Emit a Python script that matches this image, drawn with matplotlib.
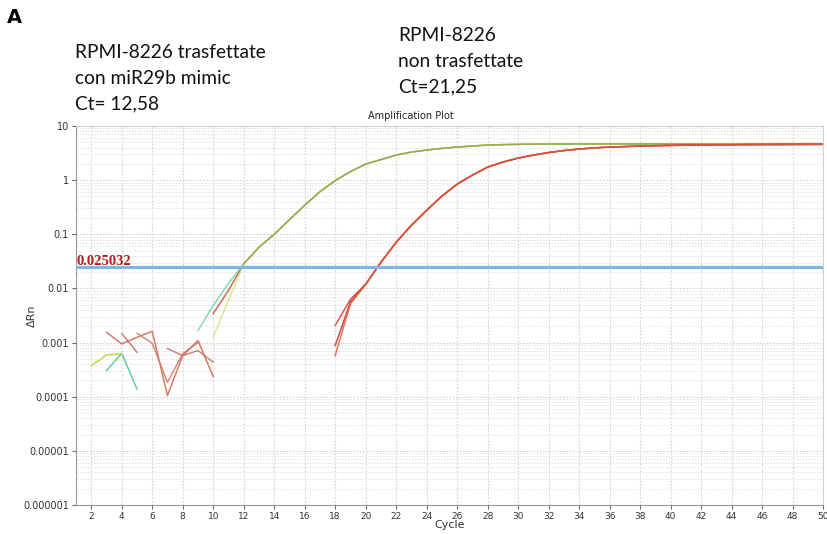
import numpy as np
import matplotlib
matplotlib.use("Agg")
import matplotlib.pyplot as plt
from matplotlib.ticker import LogLocator, NullFormatter

# ---------------- data ----------------
cycles_axis = list(range(2, 51, 2))
y_ticks = [1e-6, 1e-5, 1e-4, 1e-3, 1e-2, 1e-1, 1, 10]
y_tick_labels = ["0.000001", "0.00001", "0.0001", "0.001", "0.01", "0.1", "1", "10"]
threshold = 0.025032

# miR29b mimic transfected wells (Ct 12.58): noise part + exponential part
teal_noise_cyc = [3, 4, 5]
teal_noise_val = [0.000303, 0.000634, 0.000139]
yellow_noise_cyc = [2, 3, 4]
yellow_noise_val = [0.000375, 0.000591, 0.00062]

teal_early_cyc = [9, 10, 11]
teal_early_val = [0.00167, 0.00484, 0.0124]
yellow_early_cyc = [10, 11]
yellow_early_val = [0.00125, 0.0060]
salmon_early_cyc = [10, 11]
salmon_early_val = [0.00344, 0.00918]

green_main_cyc = list(range(12, 51))
green_main_val = [0.0285, 0.0574, 0.100, 0.186, 0.344, 0.612, 0.979, 1.437, 1.978,
                  2.396, 2.904, 3.30, 3.594, 3.864, 4.084, 4.262, 4.448, 4.524, 4.583,
                  4.62, 4.64, 4.64, 4.65, 4.65, 4.66, 4.66, 4.67, 4.67, 4.67, 4.68,
                  4.68, 4.68, 4.69, 4.69, 4.69, 4.70, 4.70, 4.70, 4.70]

# non-transfected wells (Ct 21.25)
red1_noise_cyc = [3, 4, 5, 6, 7, 8, 9, 10]
red1_noise_val = [0.00155, 0.000946, 0.00125, 0.00162, 0.000105, 0.000574, 0.00109, 0.000236]
red2_noise_cyc = [4, 5, None, 7, 8, 9, 10]
red2_noise_val = [0.00147, 0.00066, None, 0.000774, 0.000574, 0.000711, 0.000436]
red3_noise_cyc = [5, 6, 7, 8, 9]
red3_noise_val = [0.00149, 0.00097, 0.000184, 0.000625, 0.0010]

red_start_cyc = [18, 19]
red1_start_val = [0.00207, 0.0063]
red2_start_val = [0.00088, 0.0056]
red3_start_val = [0.000574, 0.0052]

red_main_cyc = list(range(20, 51))
red_main_val = [0.0119, 0.0303, 0.0711, 0.147, 0.278, 0.506, 0.843, 1.238, 1.741,
                2.154, 2.556, 2.904, 3.231, 3.518, 3.75, 3.95, 4.08, 4.17, 4.26,
                4.33, 4.38, 4.42, 4.45, 4.48, 4.50, 4.52, 4.54, 4.55, 4.56, 4.57, 4.58]

# ---------------- figure ----------------
fig = plt.figure(figsize=(8.27, 5.34), dpi=100)
ax = fig.add_axes([76 / 827, 1 - 505 / 534, 747 / 827, 379 / 534])
ax.set_yscale("log")
ax.set_xlim(1, 50)
ax.set_ylim(1e-6, 10)

# grid
ax.yaxis.set_minor_locator(LogLocator(base=10, subs=np.arange(2, 10), numticks=20))
ax.yaxis.set_minor_formatter(NullFormatter())
ax.grid(True, which="major", axis="both", color="#d4d4d4", linestyle=(0, (1.5, 1.5)), linewidth=0.8)
ax.grid(True, which="minor", axis="y", color="#e2e2e2", linestyle=(0, (1.5, 1.5)), linewidth=0.7)
ax.set_axisbelow(True)

def seg(c, v):
    c = np.array([np.nan if x is None else x for x in c], dtype=float)
    v = np.array([np.nan if x is None else x for x in v], dtype=float)
    return c, v

lw = 1.1
# green group
g_colors = {"salmon": "#cf6a52", "yellow": "#c4d64a", "teal": "#5ccf9c"}
ax.plot(*seg(teal_noise_cyc, teal_noise_val), color=g_colors["teal"], lw=lw)
ax.plot(*seg(yellow_noise_cyc, yellow_noise_val), color=g_colors["yellow"], lw=lw)
ax.plot(*seg(salmon_early_cyc + green_main_cyc, salmon_early_val + green_main_val),
        color=g_colors["salmon"], lw=lw)
ax.plot(*seg(teal_early_cyc + green_main_cyc, teal_early_val + green_main_val),
        color=g_colors["teal"], lw=lw, alpha=0.75)
ax.plot(*seg(yellow_early_cyc + green_main_cyc, yellow_early_val + green_main_val),
        color=g_colors["yellow"], lw=lw, alpha=0.6)
ax.plot(green_main_cyc, green_main_val, color="#8a9e3c", lw=0.6, alpha=0.8)

# red group
r_colors = ["#cc6450", "#c4705a", "#d4786a"]
ax.plot(*seg(red1_noise_cyc, red1_noise_val), color=r_colors[0], lw=lw, alpha=0.85)
ax.plot(*seg(red2_noise_cyc, red2_noise_val), color=r_colors[1], lw=lw, alpha=0.85)
ax.plot(*seg(red3_noise_cyc, red3_noise_val), color=r_colors[2], lw=lw, alpha=0.85)
main_red = ["#d23a36", "#c0302c", "#e0583c"]
for col, start in zip(main_red, [red1_start_val, red2_start_val, red3_start_val]):
    ax.plot(red_start_cyc + red_main_cyc, start + red_main_val, color=col, lw=lw, alpha=0.85)

# threshold
ax.axhline(threshold, color="#80b6e6", lw=2.3, zorder=5)
ax.text(1.02, threshold * 0.97, "0.025032", family="Liberation Serif", fontweight="bold",
        color="#b01c1c", fontsize=10.5, va="bottom", ha="left", zorder=6)

# axes styling
ax.set_xticks(cycles_axis)
ax.set_xticklabels([str(c) for c in cycles_axis])
ax.set_yticks(y_ticks)
ax.set_yticklabels(y_tick_labels)
ax.tick_params(axis="x", which="major", labelsize=6.5, colors="#666666", length=3, pad=2,
               labelcolor="#333333")
ax.tick_params(axis="y", which="major", labelsize=7, colors="#666666", length=3, pad=2,
               labelcolor="#333333")
ax.tick_params(axis="y", which="minor", length=0)
for s in ["left", "bottom"]:
    ax.spines[s].set_color("#999999")
for s in ["top", "right"]:
    ax.spines[s].set_color("#d0d0d0")
ax.set_xlabel("Cycle", fontsize=8, color="#333333")
ax.xaxis.set_label_coords(0.5, -(520 - 505) / 379)
ax.set_ylabel("ΔRn", fontsize=8, color="#333333")
ax.yaxis.set_label_coords(-(76 - 37) / 747, 0.5)
ax.set_title("Amplification Plot", fontsize=7, color="#222222", x=(411 - 76) / 747, pad=5)

# figure annotations
fig.text(0.008, 0.985, "A", fontsize=14, fontweight="bold", va="top", ha="left")
fig.text(75 / 827, 1 - 44 / 534, "RPMI-8226 trasfettate\ncon miR29b mimic\nCt= 12,58",
         family="Lato", fontsize=13.8, va="top", ha="left", linespacing=1.62, color="#111111")
fig.text(398 / 827, 1 - 27 / 534, "RPMI-8226\nnon trasfettate\nCt=21,25",
         family="Lato", fontsize=13.8, va="top", ha="left", linespacing=1.62, color="#111111")

fig.savefig("out.png", dpi=100)
